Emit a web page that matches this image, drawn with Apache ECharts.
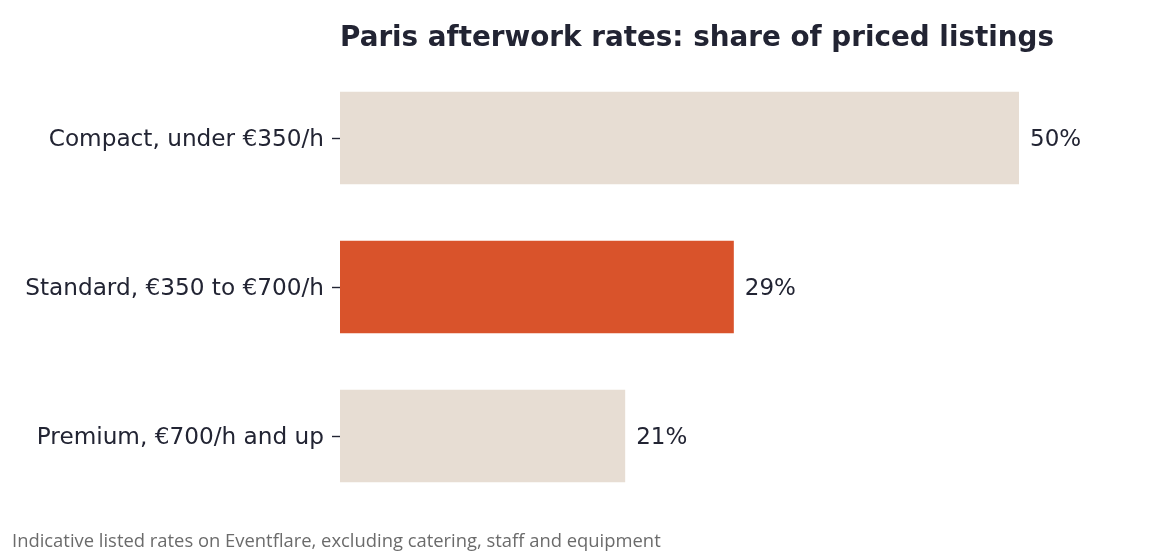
<!DOCTYPE html>
<html><head><meta charset="utf-8">
<script src="https://cdn.jsdelivr.net/npm/echarts@6/dist/echarts.min.js"></script>
<style>html,body{margin:0;padding:0;background:#fff}#c{width:1152px;height:553px}</style>
</head><body><div id="c"></div>
<script>
const categories = ["Compact, under €350/h", "Standard, €350 to €700/h", "Premium, €700/h and up"];
const values = [50, 29, 21];
const highlight = [false, true, false];
const titleText = "Paris afterwork rates: share of priced listings";
const footnote = "Indicative listed rates on Eventflare, excluding catering, staff and equipment";

const chart = echarts.init(document.getElementById('c'), null, {renderer: 'canvas'});
chart.setOption({
  backgroundColor: '#ffffff',
  animation: false,
  title: [{
    text: titleText, left: 340, top: 25, padding: 0,
    textStyle: {fontFamily: 'DejaVu Sans', fontWeight: 'bold', fontSize: 27.8, color: '#222433'}
  }, {
    text: footnote, left: 12, top: 533, padding: 0,
    textStyle: {fontFamily: 'Open Sans', fontWeight: 'normal', fontSize: 18.4, color: '#6b6b6b'}
  }],
  grid: {left: 340, top: 63.5, width: 679, height: 447, containLabel: false},
  xAxis: {type: 'value', min: 0, max: 50, show: false},
  yAxis: {
    type: 'category', data: categories, inverse: true,
    axisLine: {show: false},
    axisTick: {show: true, alignWithLabel: true, length: 8, lineStyle: {color: '#222433', width: 1.4}},
    axisLabel: {
      margin: 16, formatter: v => '{a|' + v + '}',
      rich: {a: {fontFamily: 'DejaVu Sans', fontSize: 23.2, color: '#222433', padding: [4, 0, 0, 0]}}
    }
  },
  series: [{
    type: 'bar', barCategoryGap: '38%',
    data: values.map((v, i) => ({value: v, itemStyle: {color: highlight[i] ? '#d9532b' : '#e7ddd3'}})),
    label: {show: true, position: 'right', distance: 11, offset: [0, 2], formatter: p => p.value + '%',
      fontFamily: 'DejaVu Sans', fontSize: 23, color: '#222433'}
  }]
});
</script></body></html>
